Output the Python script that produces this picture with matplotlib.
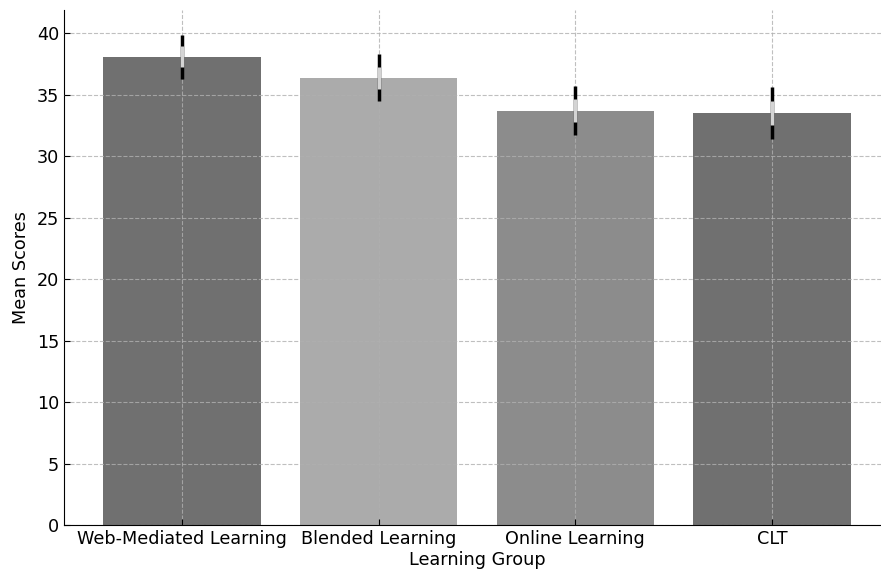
import numpy as np
import matplotlib.pyplot as plt

groups = ["Web-Mediated Learning", "Blended Learning", "Online Learning", "CLT"]
means = [38.1, 36.4, 33.7, 33.5]
errors = [1.8, 1.9, 2.0, 2.1]
colors = ["#707070", "#ababab", "#8c8c8c", "#707070"]

fig = plt.figure(figsize=(8.81, 5.74), dpi=100)
ax = fig.add_axes([0.0726, 0.0854, 0.9376, 0.8972])

x = np.arange(len(groups))
ax.bar(x, means, width=0.8, color=colors, zorder=1)

# error bars: black whiskers with a light middle section
ax.errorbar(x, means, yerr=errors, fmt="none", ecolor="black", elinewidth=2.5, zorder=3)
ax.errorbar(x, means, yerr=np.array(errors) * 0.47, fmt="none", ecolor="#d4d4d4",
            elinewidth=2.5, zorder=4)

ax.set_xlim(-0.6, 3.6)
ax.set_ylim(0, 41.9)
ax.set_xticks(x)
ax.set_xticklabels(groups)
ax.set_yticks(np.arange(0, 41, 5))
ax.tick_params(direction="in", labelsize=12.7, length=4)
ax.set_xlabel("Learning Group", fontsize=12.7, labelpad=2)
ax.set_ylabel("Mean Scores", fontsize=12.7, labelpad=5)

ax.grid(True, linestyle="--", color="#b0b0b0", linewidth=0.8, alpha=0.8, zorder=2)
ax.set_axisbelow(False)
for s in ["top", "right"]:
    ax.spines[s].set_visible(False)

fig.savefig("out.png", dpi=100)
